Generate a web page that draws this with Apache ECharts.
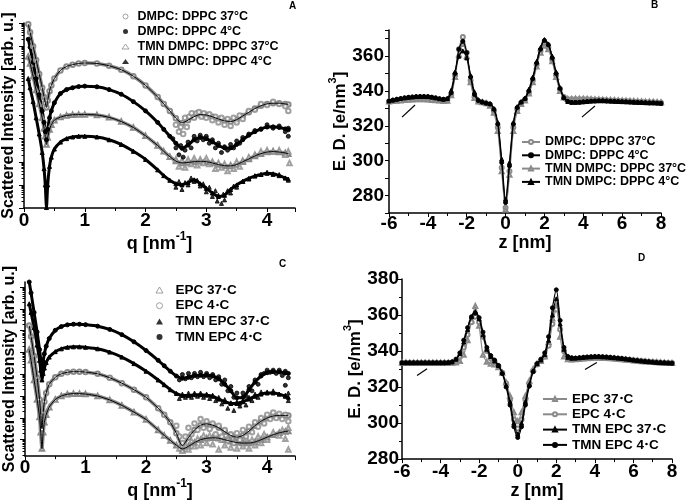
<!DOCTYPE html>
<html><head><meta charset="utf-8">
<script src="https://cdn.jsdelivr.net/npm/echarts@6/dist/echarts.min.js"></script>
<style>html,body{margin:0;padding:0;background:#fff}#c{width:686px;height:501px}</style>
</head><body><div id="c"></div>
<script>
// ---------- Panel A : SAXS curves (log10 intensity, decades) ----------
const qA = [0.07,0.1,0.15,0.2,0.25,0.3,0.33,0.35,0.37,0.39,0.42,0.45,0.5,0.6,0.7,0.8,0.9,1.0,1.2,1.4,1.6,1.8,2.0,2.2,2.3,2.4,2.5,2.6,2.7,2.8,2.9,3.0,3.1,3.2,3.3,3.4,3.5,3.6,3.7,3.8,3.9,4.0,4.1,4.2,4.3,4.35];
const aDmpc37 = [7.95,7.6,7.0,6.4,5.8,5.2,4.8,4.55,4.35,4.65,5.05,5.3,5.6,5.95,6.12,6.2,6.25,6.27,6.25,6.15,5.98,5.7,5.3,4.8,4.5,4.2,3.88,3.68,3.8,3.95,4.04,4.02,3.95,3.85,3.77,3.74,3.82,3.98,4.14,4.3,4.42,4.5,4.53,4.53,4.5,4.48];
const aDmpc4 = [7.3,6.95,6.3,5.6,4.9,4.2,3.7,3.3,2.95,3.4,3.9,4.2,4.55,4.95,5.12,5.2,5.25,5.27,5.24,5.12,4.92,4.6,4.2,3.7,3.4,3.1,2.8,2.58,2.72,2.95,3.05,3.0,2.86,2.7,2.6,2.6,2.75,2.95,3.15,3.3,3.42,3.5,3.51,3.48,3.42,3.38];
const aTmn37 = [6.55,6.25,5.7,5.1,4.5,3.9,3.45,3.1,2.75,3.05,3.4,3.6,3.8,3.93,4.0,4.03,4.04,4.04,4.02,3.92,3.74,3.48,3.12,2.7,2.45,2.22,2.03,1.95,1.97,2.0,2.02,2.0,1.95,1.88,1.83,1.82,1.88,2.0,2.12,2.25,2.35,2.42,2.44,2.42,2.38,2.35];
const aTmn4 = [5.6,5.2,4.6,3.9,3.2,2.4,1.7,1.0,0.02,1.0,1.8,2.2,2.55,2.85,3.0,3.07,3.1,3.1,3.07,2.95,2.75,2.45,2.1,1.65,1.4,1.2,1.05,1.0,1.1,1.22,1.05,0.85,0.65,0.5,0.55,0.8,1.0,1.15,1.28,1.38,1.45,1.5,1.48,1.4,1.3,1.25];
const aDmpc37Pts = [[2.5,3.6],[2.55,3.3],[2.58,3.5],[2.62,3.2],[2.65,3.9],[2.68,3.5],[2.72,3.95],[2.76,4.1],[2.8,3.9],[2.84,4.1],[2.88,4.15],[2.92,3.95],[2.96,4.1],[3.0,3.9],[3.05,4.05],[3.1,3.8],[3.15,3.95],[3.2,3.7],[3.25,3.9],[3.3,3.6],[3.35,3.85],[3.4,3.55],[3.45,3.9],[3.5,3.7],[3.55,4.0],[3.6,3.85],[3.7,4.2],[3.8,4.25],[3.9,4.5],[4.0,4.45],[4.1,4.6],[4.2,4.5],[4.3,4.4],[4.35,4.2]];
const aDmpc4Pts = [[2.45,3.0],[2.5,2.6],[2.55,2.3],[2.58,2.7],[2.62,2.2],[2.65,2.5],[2.7,2.85],[2.75,2.6],[2.8,3.1],[2.85,2.9],[2.9,3.15],[2.95,2.95],[3.0,3.1],[3.05,2.8],[3.1,2.95],[3.15,2.6],[3.2,2.8],[3.25,2.4],[3.3,2.65],[3.35,2.5],[3.4,2.75],[3.45,2.6],[3.5,2.9],[3.55,2.8],[3.6,3.05],[3.7,3.2],[3.8,3.35],[3.9,3.4],[4.0,3.6],[4.1,3.45],[4.2,3.55],[4.3,3.3],[4.35,3.1],[4.35,3.45]];
const aTmn37Pts = [[2.5,2.1],[2.55,1.8],[2.6,2.05],[2.65,1.75],[2.7,2.1],[2.75,1.9],[2.8,2.15],[2.85,1.85],[2.9,2.1],[2.95,1.95],[3.0,2.15],[3.05,1.9],[3.1,2.0],[3.15,1.7],[3.2,1.95],[3.25,1.75],[3.3,1.9],[3.35,1.6],[3.4,1.85],[3.45,1.7],[3.5,2.0],[3.55,1.8],[3.6,2.05],[3.7,2.2],[3.8,2.3],[3.9,2.45],[4.0,2.5],[4.1,2.45],[4.2,2.5],[4.3,2.3],[4.35,2.45],[4.37,1.95]];
const aTmn4Pts = [[2.5,0.9],[2.55,1.15],[2.6,0.8],[2.65,1.1],[2.7,1.0],[2.75,1.3],[2.8,1.15],[2.85,1.2],[2.9,0.95],[2.95,1.05],[3.0,0.7],[3.05,0.9],[3.1,0.5],[3.15,0.75],[3.18,0.3],[3.2,0.55],[3.25,0.2],[3.28,0.6],[3.3,0.35],[3.35,0.75],[3.4,0.65],[3.45,0.95],[3.5,0.9],[3.6,1.15],[3.7,1.25],[3.8,1.4],[3.9,1.45],[4.0,1.55],[4.1,1.45],[4.2,1.45],[4.3,1.3],[4.35,1.2]];

// ---------- Panel C ----------
const qC = [0.07,0.1,0.15,0.2,0.24,0.26,0.28,0.3,0.32,0.35,0.4,0.5,0.6,0.7,0.8,0.9,1.0,1.2,1.4,1.6,1.8,2.0,2.2,2.3,2.4,2.5,2.6,2.7,2.8,2.9,3.0,3.1,3.2,3.3,3.4,3.5,3.6,3.7,3.8,3.9,4.0,4.1,4.2,4.3,4.35];
const cTmn4 = [8.0,7.5,6.6,5.7,4.9,4.45,4.0,4.35,4.7,5.05,5.4,5.78,5.95,6.03,6.06,6.06,6.04,5.97,5.82,5.58,5.25,4.85,4.4,4.15,3.9,3.68,3.58,3.62,3.7,3.72,3.72,3.68,3.55,3.3,3.0,2.68,2.7,3.05,3.4,3.68,3.83,3.88,3.87,3.82,3.8];
const cTmn37 = [7.0,6.6,5.9,5.1,4.4,3.95,3.5,3.8,4.05,4.3,4.55,4.8,4.93,5.0,5.02,5.02,5.0,4.93,4.78,4.55,4.25,3.9,3.5,3.28,3.05,2.88,2.78,2.78,2.82,2.82,2.8,2.75,2.62,2.5,2.42,2.42,2.5,2.62,2.75,2.85,2.9,2.9,2.85,2.75,2.7];
const cEpc4 = [6.0,5.5,4.6,3.6,2.6,1.9,1.25,2.0,2.5,2.9,3.3,3.62,3.78,3.85,3.88,3.88,3.86,3.78,3.6,3.35,3.05,2.7,2.2,1.9,1.55,1.05,0.48,0.85,1.2,1.42,1.48,1.42,1.3,1.12,0.95,0.87,0.95,1.15,1.4,1.6,1.75,1.84,1.87,1.87,1.87];
const cEpc37 = [4.9,4.4,3.5,2.6,1.8,1.1,0.35,1.1,1.55,1.9,2.25,2.6,2.76,2.84,2.87,2.87,2.85,2.76,2.58,2.33,2.02,1.68,1.2,0.95,0.72,0.5,0.33,0.45,0.62,0.75,0.82,0.84,0.82,0.75,0.68,0.62,0.6,0.6,0.65,0.75,0.87,0.98,1.07,1.13,1.15];
const cTmn4Pts = [[2.55,3.5],[2.6,3.75],[2.65,3.55],[2.7,3.8],[2.75,3.6],[2.8,3.8],[2.85,3.65],[2.9,3.85],[2.95,3.65],[3.0,3.8],[3.05,3.6],[3.1,3.75],[3.15,3.5],[3.2,3.65],[3.25,3.3],[3.3,3.5],[3.35,3.0],[3.4,3.2],[3.45,2.7],[3.5,2.9],[3.55,2.4],[3.6,2.9],[3.65,2.75],[3.7,3.2],[3.75,3.0],[3.8,3.5],[3.85,3.3],[3.9,3.75],[3.95,3.8],[4.0,3.95],[4.05,3.85],[4.1,3.95],[4.15,3.8],[4.2,3.95],[4.25,3.7],[4.3,3.9],[4.35,3.6],[4.3,3.25]];
const cTmn37Pts = [[2.55,2.65],[2.6,2.85],[2.65,2.7],[2.7,2.9],[2.75,2.7],[2.8,2.9],[2.85,2.75],[2.9,2.9],[2.95,2.7],[3.0,2.85],[3.05,2.65],[3.1,2.8],[3.15,2.55],[3.2,2.7],[3.25,2.4],[3.3,2.6],[3.35,2.2],[3.4,2.45],[3.45,2.1],[3.5,2.5],[3.55,2.3],[3.6,2.55],[3.65,2.35],[3.7,2.7],[3.75,2.55],[3.8,2.85],[3.85,2.7],[3.9,2.95],[4.0,2.95],[4.1,3.0],[4.2,2.85],[4.3,2.8],[4.35,2.55],[4.35,2.9]];
const cEpc4Pts = [[2.5,1.4],[2.55,0.9],[2.6,0.6],[2.65,0.9],[2.7,1.3],[2.75,1.0],[2.8,1.5],[2.85,1.2],[2.9,1.7],[2.95,1.3],[3.0,1.6],[3.05,1.25],[3.1,1.5],[3.15,1.0],[3.2,1.4],[3.25,0.9],[3.3,1.2],[3.35,0.7],[3.4,1.0],[3.45,0.6],[3.5,1.05],[3.55,0.75],[3.6,1.2],[3.65,0.9],[3.7,1.35],[3.75,1.1],[3.8,1.55],[3.85,1.35],[3.9,1.75],[3.95,1.5],[4.0,1.9],[4.05,1.7],[4.1,2.0],[4.15,1.75],[4.2,1.95],[4.25,1.7],[4.3,1.9],[4.35,1.6]];
const cEpc37Pts = [[2.55,0.35],[2.6,0.25],[2.65,0.5],[2.7,0.3],[2.75,0.7],[2.8,0.45],[2.85,0.8],[2.9,0.5],[2.95,0.95],[3.0,0.6],[3.05,0.95],[3.1,0.55],[3.15,0.85],[3.2,0.3],[3.25,0.75],[3.3,0.5],[3.35,0.85],[3.4,0.4],[3.45,0.7],[3.5,0.35],[3.55,0.75],[3.6,0.45],[3.65,0.8],[3.7,0.35],[3.75,0.75],[3.8,0.5],[3.85,0.9],[3.9,0.6],[3.95,1.0],[4.0,0.75],[4.1,1.1],[4.2,0.95],[4.25,1.2],[4.3,0.8],[4.35,0.3],[4.35,1.3]];

// ---------- Panels B and D : electron density profiles ----------
const zGrid = [-6,-5.8,-5.6,-5.4,-5.2,-5,-4.8,-4.6,-4.4,-4.2,-4,-3.8,-3.6,-3.4,-3.2,-3,-2.8,-2.6,-2.4,-2.2,-2,-1.8,-1.6,-1.4,-1.2,-1,-0.8,-0.6,-0.4,-0.2,0,0.2,0.4,0.6,0.8,1,1.2,1.4,1.6,1.8,2,2.2,2.4,2.6,2.8,3,3.2,3.4,3.6,3.8,4,4.2,4.4,4.6,4.8,5,5.2,5.4,5.6,5.8,6,6.2,6.4,6.6,6.8,7,7.2,7.4,7.6,7.8,8];
const bDmpc37 = [334.0,334.3,334.6,334.9,335.1,335.3,335.5,335.6,335.6,335.6,335.5,335.3,335.0,334.7,334.4,334.6,338,349,364,371,362,346,336.5,334,333.5,333,332,328.5,319,296,273,294,319,329.5,333,335,339,346,355,363,367.5,365,358,349,341,336.5,335.3,335.2,335.3,335.3,335.3,335.2,335.1,335.0,334.9,334.8,334.7,334.6,334.5,334.4,334.3,334.2,334.1,334.0,333.9,333.8,333.7,333.6,333.5,333.4,333.3];
const bDmpc4 = [334.3,334.8,335.3,335.7,336.1,336.4,336.6,336.8,336.9,336.9,336.8,336.5,336.1,335.6,335.3,335.5,339,350,364,368.5,362,348,338,334.5,333.5,333,332.5,329.5,321,299,276,297,321,330.5,333.5,335.5,340,347,356,364,369,366.5,359,350,341.5,336,334,333.5,333.5,333.6,333.8,334.0,334.2,334.3,334.4,334.4,334.3,334.2,334.1,334.0,333.9,333.8,333.7,333.6,333.5,333.4,333.3,333.2,333.2,333.1,333.0];
const bTmn37 = [334.0,334.2,334.4,334.6,334.8,335.0,335.1,335.2,335.2,335.2,335.1,334.9,334.7,334.5,334.3,334.4,337.5,348,361,367,360,345,336,334,333.5,333,331.5,327.5,317,294,272,292,317,328.5,332.5,334.5,338.5,345,354,362,366,364,357,348,340,336.2,335.4,335.4,335.5,335.5,335.5,335.4,335.3,335.2,335.1,335.0,334.9,334.8,334.7,334.6,334.5,334.4,334.3,334.2,334.1,334.0,333.9,333.8,333.7,333.6,333.5];
const bTmn4 = [334.3,334.8,335.3,335.7,336.1,336.4,336.6,336.8,336.9,336.9,336.8,336.5,336.1,335.6,335.3,335.7,340.5,351,360,363,359,349,339.5,335,334,333.2,332.8,330,322,301,278,299,322,331,334,336,341,348,357,365,369.5,367,360,351,342,336.5,334,333.5,333.5,333.6,333.8,334.0,334.2,334.3,334.4,334.4,334.3,334.2,334.1,334.0,333.9,333.8,333.7,333.6,333.5,333.4,333.3,333.2,333.2,333.1,333.0];
const dEpc37 = [333.5,333.5,333.5,333.5,333.5,333.5,333.5,333.5,333.5,333.5,333.5,333.5,333.5,333.5,333.7,334.5,338,346,357,365,354,338,334,333,332.5,331,328,322.5,315,306,301,306,315,323.5,330,333,334.5,337,345,358,365,348,337,335.5,335.3,335.4,335.6,335.8,336.0,336.2,336.3,336.3,336.2,336.1,336.0,335.8,335.6,335.4,335.2,335.0,334.8,334.6,334.4,334.2,334.0,333.9,333.8,333.6,333.5,333.4,333.3];
const dEpc4 = [333.5,333.5,333.5,333.5,333.5,333.5,333.5,333.5,333.5,333.5,333.5,333.5,333.5,333.6,334.5,337,342,349,356,359,356,348,340,336,334,331.5,328,322,313,302,297,302,313,322,329,332.5,334.5,337,343,355,363,352,340,336,335.5,335.6,335.8,336.0,336.2,336.4,336.5,336.5,336.4,336.3,336.1,335.9,335.7,335.5,335.3,335.1,334.9,334.7,334.5,334.3,334.1,333.9,333.8,333.6,333.5,333.4,333.3];
const dTmn37 = [333.5,333.5,333.5,333.5,333.5,333.5,333.5,333.5,333.5,333.5,333.5,333.5,333.6,334,335.5,338.5,345,352,359,362,358,349,341,337,334.5,332,328,321,312,300,294,300,312,321.5,329,333,335,338,346,360,369,355,341,336.5,336,336.1,336.3,336.5,336.7,336.8,336.9,336.9,336.8,336.7,336.5,336.3,336.1,335.9,335.6,335.3,335.0,334.7,334.5,334.3,334.1,333.9,333.7,333.6,333.5,333.4,333.3];
const dTmn4 = [333.5,333.5,333.5,333.5,333.5,333.5,333.5,333.5,333.5,333.5,333.5,333.5,333.6,334,335.5,339,346,353,359,361,358.5,350.5,342,337.5,335,332,327.5,320,310,298,292,298,310,320.5,328.5,333,335.5,339,348,364,374,357,342,337,336.3,336.1,336.3,336.5,336.7,336.8,336.9,336.9,336.8,336.7,336.5,336.3,336.1,335.9,335.6,335.3,335.0,334.7,334.5,334.3,334.1,333.9,333.7,333.6,333.5,333.4,333.3];

// arrows (data coordinates)
const arrowsB = [[[-5.33,325],[-4.66,332]],[[3.93,325],[4.6,331.4]]];
const arrowsD = [[[-5.22,326.4],[-4.7,330.2]],[[3.49,329.7],[4.1,333.6]]];

// ---------- Text ----------
const legendA = ['DMPC: DPPC 37°C','DMPC: DPPC 4°C','TMN DMPC: DPPC 37°C','TMN DMPC: DPPC 4°C'];
const legendC = ['EPC 37{o|∘}C','EPC 4{o|∘}C','TMN EPC 37{o|∘}C','TMN EPC 4{o|∘}C'];
const panelLetters = ['A','B','C','D'];
const xTicksQ = [0,1,2,3,4];
const yTicksB = [280,300,320,340,360];
const yTicksD = [280,300,320,340,360,380];
const xTicksZ = [-6,-4,-2,0,2,4,6,8];

const FONT = '"Liberation Sans", Arial, Helvetica, sans-serif';
const GRAY = '#8a8a8a';
const BLACK = '#000';
const zip = (xs, ys) => xs.map((x, i) => [x, ys[i]]);

const labelMap = {
  a1: legendA[0], a2: legendA[1], a3: legendA[2], a4: legendA[3],
  b1: legendA[0], b2: legendA[1], b3: legendA[2], b4: legendA[3],
  c1: legendC[0], c2: legendC[1], c3: legendC[2], c4: legendC[3],
  d1: legendC[0], d2: legendC[1], d3: legendC[2], d4: legendC[3]
};

const majorA = [0,1,2,3,4,5,6,7,8];
const minorA = [];
for (let k = 0; k < 8; k++) for (let j = 2; j <= 9; j++) minorA.push(k + Math.log10(j));
const cOff = 0.76;
const majorC = [], minorC = [];
for (let k = 0; k < 8; k++) majorC.push(k + cOff);
for (let k = -1; k < 8; k++) for (let j = 2; j <= 9; j++) { const v = k + cOff + Math.log10(j); if (v > 0 && v < 8) minorC.push(v); }

const tickLabel = {color: BLACK, fontSize: 19, fontWeight: 'bold', fontFamily: FONT};
const axisLineS = {onZero: false, lineStyle: {color: BLACK, width: 1.5}};
const tickS = (len) => ({length: len, lineStyle: {color: BLACK, width: 1}});
const richName = (size) => ({
  color: BLACK, fontFamily: FONT, fontWeight: 'bold', fontSize: size,
  rich: {
    t: {fontSize: size, fontWeight: 'bold', fontFamily: FONT, color: BLACK, lineHeight: size + 4, verticalAlign: 'bottom'},
    s: {fontSize: Math.round(size * 0.65), fontWeight: 'bold', fontFamily: FONT, color: BLACK, lineHeight: Math.round(size * 0.65), verticalAlign: 'top'}
  }
});

function qAxis(gi, nameGap, margin) {
  return {
    gridIndex: gi, type: 'value', min: 0, max: 4.46, interval: 1,
    axisLine: axisLineS, axisTick: tickS(4),
    minorTick: {show: true, splitNumber: 2, length: 3, lineStyle: {color: BLACK}},
    splitLine: {show: false}, minorSplitLine: {show: false},
    axisLabel: Object.assign({margin: margin, formatter: v => xTicksQ.includes(v) ? String(v) : ''}, tickLabel),
    name: '{t|q [nm}{s|-1}{t|]}', nameLocation: 'middle', nameGap: nameGap, nameTextStyle: richName(18)
  };
}
function zAxis(gi, nameGap, margin) {
  return {
    gridIndex: gi, type: 'value', min: -6, max: 8, interval: 2,
    axisLine: axisLineS, axisTick: tickS(4),
    minorTick: {show: true, splitNumber: 2, length: 3, lineStyle: {color: BLACK}},
    splitLine: {show: false},
    axisLabel: Object.assign({margin: margin, formatter: v => xTicksZ.includes(v) ? String(v) : ''}, tickLabel),
    name: 'z [nm]', nameLocation: 'middle', nameGap: nameGap,
    nameTextStyle: {color: BLACK, fontFamily: FONT, fontWeight: 'bold', fontSize: 18}
  };
}
function logMain(gi, majors, name) {
  return {
    gridIndex: gi, type: 'value', min: 0, max: 8, position: 'left',
    axisLine: axisLineS, axisTick: Object.assign({customValues: majors}, tickS(5)),
    axisLabel: {show: false}, splitLine: {show: false},
    name: name, nameLocation: 'middle', nameGap: 7,
    nameTextStyle: {color: BLACK, fontFamily: FONT, fontWeight: 'bold', fontSize: 16}
  };
}
function logMinor(gi, minors) {
  return {
    gridIndex: gi, type: 'value', min: 0, max: 8, position: 'left',
    axisLine: {show: false, onZero: false}, axisTick: Object.assign({customValues: minors}, tickS(2.5)),
    axisLabel: {show: false}, splitLine: {show: false}
  };
}

// ---- series builders ----
const series = [];
function saxs(xi, yi, xs, ys, pts, key, sym, open) {
  const col = open ? GRAY : BLACK;
  series.push({
    type: 'line', xAxisIndex: xi, yAxisIndex: yi, data: zip(xs, ys), smooth: 0.25,
    symbol: sym, symbolSize: open ? 4.5 : 4, showSymbol: true, showAllSymbol: true,
    lineStyle: {color: col, width: open ? 3.5 : 3}, itemStyle: {color: col, borderColor: col, borderWidth: 1},
    silent: true, z: 2
  });
  series.push({
    type: 'scatter', name: key, xAxisIndex: xi, yAxisIndex: yi, data: pts,
    symbol: sym, symbolSize: open ? 4.5 : 4, itemStyle: {color: col, borderColor: col, borderWidth: 1},
    silent: true, z: 3
  });
}
function fit(xi, yi, xs, ys) {
  series.push({
    type: 'line', xAxisIndex: xi, yAxisIndex: yi, data: zip(xs, ys), smooth: 0.25,
    showSymbol: false, symbol: 'none', lineStyle: {color: BLACK, width: 1}, silent: true, z: 4
  });
}
saxs(0, 0, qA, aTmn4, aTmn4Pts, 'a4', 'triangle', false);
saxs(0, 0, qA, aTmn37, aTmn37Pts, 'a3', 'emptyTriangle', true);
saxs(0, 0, qA, aDmpc4, aDmpc4Pts, 'a2', 'circle', false);
saxs(0, 0, qA, aDmpc37, aDmpc37Pts, 'a1', 'emptyCircle', true);
fit(0, 0, qA, aTmn37); fit(0, 0, qA, aDmpc37);

saxs(2, 3, qC, cEpc37, cEpc37Pts, 'c1', 'emptyTriangle', true);
saxs(2, 3, qC, cEpc4, cEpc4Pts, 'c2', 'emptyCircle', true);
saxs(2, 3, qC, cTmn37, cTmn37Pts, 'c3', 'triangle', false);
saxs(2, 3, qC, cTmn4, cTmn4Pts, 'c4', 'circle', false);
fit(2, 3, qC, cEpc37); fit(2, 3, qC, cEpc4); fit(2, 3, qC, cTmn37); fit(2, 3, qC, cTmn4);

function profile(xi, yi, ys, key, sym, open, arrows) {
  const col = open ? GRAY : BLACK;
  const s = {
    type: 'line', name: key, xAxisIndex: xi, yAxisIndex: yi, data: zip(zGrid, ys), smooth: 0.3,
    symbol: sym, symbolSize: 4, showSymbol: true, showAllSymbol: true,
    lineStyle: {color: col, width: 1.2}, itemStyle: {color: col, borderColor: col, borderWidth: 1},
    silent: true, z: open ? 2 : 3
  };
  if (arrows) {
    s.markLine = {
      silent: true, symbol: ['none', 'arrow'], symbolSize: [0, 8], animation: false,
      lineStyle: {color: BLACK, width: 1.2, type: 'solid'}, label: {show: false},
      data: arrows.map(a => [{coord: a[0]}, {coord: a[1]}])
    };
  }
  series.push(s);
}
profile(1, 2, bDmpc37, 'b1', 'emptyCircle', true);
profile(1, 2, bTmn37, 'b3', 'emptyTriangle', true);
profile(1, 2, bDmpc4, 'b2', 'circle', false);
profile(1, 2, bTmn4, 'b4', 'triangle', false, arrowsB);

profile(3, 5, dEpc37, 'd1', 'emptyTriangle', true);
profile(3, 5, dEpc4, 'd2', 'emptyCircle', true);
profile(3, 5, dTmn37, 'd3', 'triangle', false);
profile(3, 5, dTmn4, 'd4', 'circle', false, arrowsD);

const openIcon = {color: '#fff', borderColor: GRAY, borderWidth: 1};
const fillIcon = {color: BLACK, borderColor: BLACK, borderWidth: 0};
const legTxt = (size, lh, padL) => ({
  fontSize: size, fontWeight: 'bold', color: BLACK, fontFamily: FONT, lineHeight: lh, padding: [0, 0, 0, padL],
  rich: {o: {fontSize: Math.round(size * 0.6), fontWeight: 'bold', color: BLACK, fontFamily: FONT, lineHeight: lh}}
});

const option = {
  backgroundColor: '#fff',
  animation: false,
  title: [
    {text: panelLetters[0], left: 289, top: 1, padding: 0, textStyle: {fontSize: 10, fontWeight: 'bold', fontFamily: FONT, color: BLACK}},
    {text: panelLetters[1], left: 651, top: 0, padding: 0, textStyle: {fontSize: 10, fontWeight: 'bold', fontFamily: FONT, color: BLACK}},
    {text: panelLetters[2], left: 279, top: 259, padding: 0, textStyle: {fontSize: 10, fontWeight: 'bold', fontFamily: FONT, color: BLACK}},
    {text: panelLetters[3], left: 638, top: 253, padding: 0, textStyle: {fontSize: 10, fontWeight: 'bold', fontFamily: FONT, color: BLACK}}
  ],
  grid: [
    {left: 24, top: 23, width: 271, height: 185},
    {left: 389, top: 30, width: 272, height: 183},
    {left: 25, top: 282, width: 270, height: 185},
    {left: 402, top: 279, width: 270, height: 183}
  ],
  xAxis: [qAxis(0, 17, 3), zAxis(1, 14, 1), qAxis(2, 4, 2), zAxis(3, 3, 3)],
  yAxis: [
    logMain(0, majorA, 'Scattered Intensity [arb. u.]'),
    logMinor(0, minorA),
    {
      gridIndex: 1, type: 'value', min: 270, max: 375, interval: 10,
      axisLine: axisLineS, axisTick: tickS(4), splitLine: {show: false},
      axisLabel: Object.assign({margin: 5, formatter: v => yTicksB.includes(v) ? String(v) : ''}, tickLabel),
      name: '{t|E. D. [e/nm}{s|3}{t|]}', nameLocation: 'middle', nameGap: 30, nameTextStyle: richName(17)
    },
    logMain(2, majorC, 'Scattered Intensity [arb. u.]'),
    logMinor(2, minorC),
    {
      gridIndex: 3, type: 'value', min: 280, max: 380, interval: 20,
      axisLine: axisLineS, axisTick: tickS(4),
      minorTick: {show: true, splitNumber: 2, length: 3, lineStyle: {color: BLACK}},
      splitLine: {show: false},
      axisLabel: Object.assign({margin: 3, formatter: v => yTicksD.includes(v) ? String(v) : ''}, tickLabel),
      name: '{t|E. D. [e/nm}{s|3}{t|]}', nameLocation: 'middle', nameGap: 38, nameTextStyle: richName(17)
    }
  ],
  legend: [
    {
      left: 121.5, top: 10, orient: 'vertical', padding: 0, itemWidth: 7, itemHeight: 5, itemGap: 2,
      selectedMode: false, textStyle: legTxt(12.5, 13, 3.5), formatter: n => labelMap[n],
      data: [
        {name: 'a1', icon: 'circle', itemStyle: openIcon},
        {name: 'a2', icon: 'circle', itemStyle: fillIcon},
        {name: 'a3', icon: 'triangle', itemStyle: openIcon},
        {name: 'a4', icon: 'triangle', itemStyle: fillIcon}
      ]
    },
    {
      left: 521, top: 135.5, orient: 'vertical', padding: 0, itemWidth: 18, itemHeight: 5, itemGap: 0.3,
      selectedMode: false, textStyle: legTxt(12.5, 13, 0), formatter: n => labelMap[n],
      data: ['b1', 'b2', 'b3', 'b4']
    },
    {
      left: 155.5, top: 283, orient: 'vertical', padding: 0, itemWidth: 7, itemHeight: 6, itemGap: 1.7,
      selectedMode: false, textStyle: legTxt(13.5, 14, 7.5), formatter: n => labelMap[n],
      data: [
        {name: 'c1', icon: 'triangle', itemStyle: openIcon},
        {name: 'c2', icon: 'circle', itemStyle: openIcon},
        {name: 'c3', icon: 'triangle', itemStyle: fillIcon},
        {name: 'c4', icon: 'circle', itemStyle: {color: BLACK, borderWidth: 0}}
      ]
    },
    {
      left: 542, top: 392, orient: 'vertical', padding: 0, itemWidth: 24, itemHeight: 5, itemGap: 1.3,
      selectedMode: false, textStyle: legTxt(13.5, 14, 0), formatter: n => labelMap[n],
      data: ['d1', 'd2', 'd3', 'd4']
    }
  ],
  series: series
};

const chart = echarts.init(document.getElementById('c'), null, {renderer: 'canvas'});
chart.setOption(option);
</script></body></html>
